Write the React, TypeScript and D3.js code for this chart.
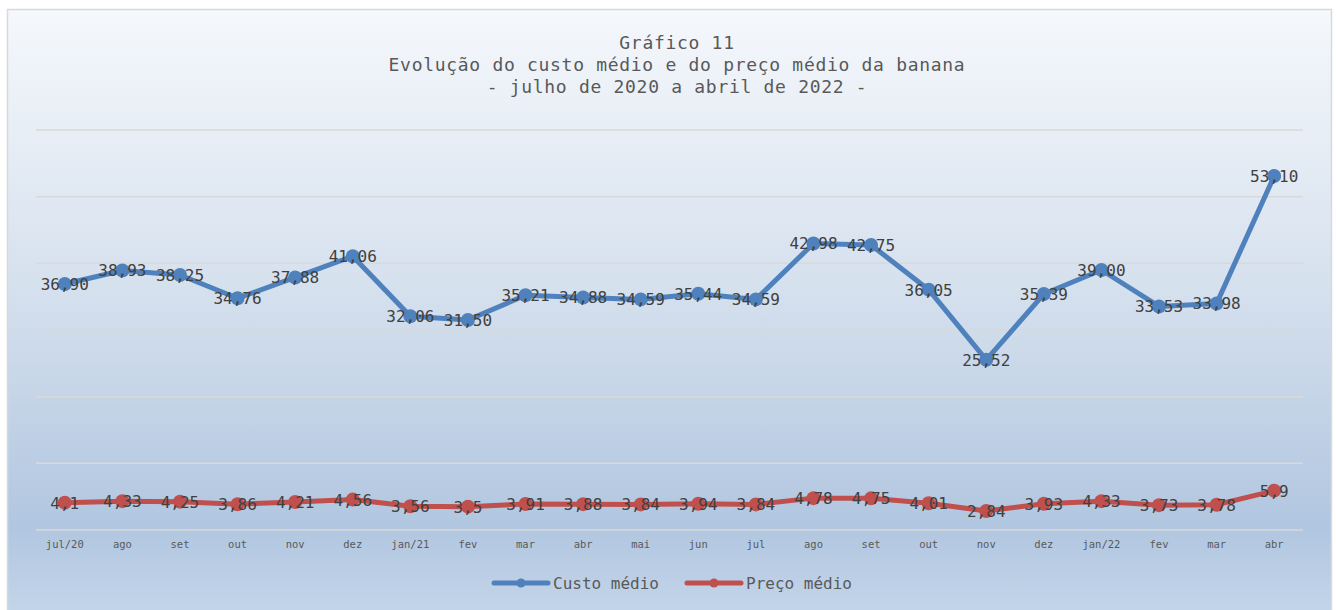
import React, { useEffect, useRef } from 'react';
import * as d3 from 'd3';

const months = ['jul/20', 'ago', 'set', 'out', 'nov', 'dez', 'jan/21', 'fev', 'mar', 'abr', 'mai', 'jun',
  'jul', 'ago', 'set', 'out', 'nov', 'dez', 'jan/22', 'fev', 'mar', 'abr'];

const custoMedio = [36.90, 38.93, 38.25, 34.76, 37.88, 41.06, 32.06, 31.50, 35.21, 34.88, 34.59, 35.44,
  34.59, 42.98, 42.75, 36.05, 25.52, 35.39, 39.00, 33.53, 33.98, 53.10];
const custoLabels = ['36,90', '38,93', '38,25', '34,76', '37,88', '41,06', '32,06', '31,50', '35,21', '34,88', '34,59', '35,44',
  '34,59', '42,98', '42,75', '36,05', '25,52', '35,39', '39,00', '33,53', '33,98', '53,10'];

const precoMedio = [4.1, 4.33, 4.25, 3.86, 4.21, 4.56, 3.56, 3.5, 3.91, 3.88, 3.84, 3.94,
  3.84, 4.78, 4.75, 4.01, 2.84, 3.93, 4.33, 3.73, 3.78, 5.9];
const precoLabels = ['4,1', '4,33', '4,25', '3,86', '4,21', '4,56', '3,56', '3,5', '3,91', '3,88', '3,84', '3,94',
  '3,84', '4,78', '4,75', '4,01', '2,84', '3,93', '4,33', '3,73', '3,78', '5,9'];

const yTicks = [0, 10, 20, 30, 40, 50, 60];

const titleLines = ['Gráfico 11', 'Evolução do custo médio e do preço médio da banana', '- julho de 2020 a abril de 2022 -'];

const FONT = '"DejaVu Sans Mono", "Liberation Mono", monospace';

const App = () => {
  const svgRef = useRef<SVGSVGElement>(null);
  const svgWidth = 1336;
  const svgHeight = 610;

  useEffect(() => {
    const svg = d3.select(svgRef.current);
    svg.selectAll('*').remove();

    const defs = svg.append('defs');
    const grad = defs.append('linearGradient')
      .attr('id', 'bg').attr('x1', 0).attr('y1', 0).attr('x2', 0).attr('y2', 1);
    grad.append('stop').attr('offset', '0%').attr('stop-color', '#f5f8fc');
    grad.append('stop').attr('offset', '45%').attr('stop-color', '#d6e1ee');
    grad.append('stop').attr('offset', '85%').attr('stop-color', '#b1c6e0');
    grad.append('stop').attr('offset', '100%').attr('stop-color', '#c4d6ea');

    // chart area
    svg.append('rect')
      .attr('x', 7.5).attr('y', 9.5)
      .attr('width', 1324).attr('height', 610)
      .attr('fill', 'url(#bg)')
      .attr('stroke', '#d9d9d9')
      .attr('stroke-width', 1.5);

    const x = d3.scaleBand<number>()
      .domain(months.map((_, i) => i))
      .range([36, 1303])
      .padding(0);
    const cx = (i: number) => (x(i) as number) + x.bandwidth() / 2;

    const y = d3.scaleLinear().domain([0, 60]).range([530, 130]);

    // gridlines
    svg.append('g')
      .selectAll('line')
      .data(yTicks)
      .enter().append('line')
      .attr('x1', 36).attr('x2', 1303)
      .attr('y1', d => y(d)).attr('y2', d => y(d))
      .attr('stroke', '#d9d9d9')
      .attr('stroke-width', 1.5);

    // title
    svg.append('g')
      .selectAll('text')
      .data(titleLines)
      .enter().append('text')
      .attr('x', 677)
      .attr('y', (d, i) => 49 + i * 22)
      .attr('text-anchor', 'middle')
      .attr('font-family', FONT)
      .attr('font-size', 18)
      .attr('letter-spacing', 0.7)
      .attr('fill', '#595959')
      .text(d => d);

    // x axis labels
    svg.append('g')
      .selectAll('text')
      .data(months)
      .enter().append('text')
      .attr('x', (d, i) => cx(i))
      .attr('y', 548)
      .attr('text-anchor', 'middle')
      .attr('font-family', FONT)
      .attr('font-size', 10.5)
      .attr('fill', '#595959')
      .text(d => d);

    const series = [
      { name: 'Custo médio', values: custoMedio, labels: custoLabels, color: '#4f81bd' },
      { name: 'Preço médio', values: precoMedio, labels: precoLabels, color: '#c0504d' },
    ];

    const line = d3.line<number>()
      .x((d, i) => cx(i))
      .y(d => y(d));

    series.forEach(s => {
      const g = svg.append('g');
      g.append('path')
        .datum(s.values)
        .attr('d', line)
        .attr('fill', 'none')
        .attr('stroke', s.color)
        .attr('stroke-width', 5)
        .attr('stroke-linejoin', 'round')
        .attr('stroke-linecap', 'round');
      g.selectAll('circle')
        .data(s.values)
        .enter().append('circle')
        .attr('cx', (d, i) => cx(i))
        .attr('cy', d => y(d))
        .attr('r', 7)
        .attr('fill', s.color);
    });

    series.forEach(s => {
      svg.append('g')
        .selectAll('text')
        .data(s.values)
        .enter().append('text')
        .attr('x', (d, i) => cx(i))
        .attr('y', d => y(d) + 6)
        .attr('text-anchor', 'middle')
        .attr('font-family', FONT)
        .attr('font-size', 16)
        .attr('fill', '#404040')
        .text((d, i) => s.labels[i]);
    });

    // legend
    const legendX = [494, 687];
    series.forEach((s, i) => {
      const lg = svg.append('g').attr('transform', `translate(${legendX[i]},583)`);
      lg.append('line')
        .attr('x1', 0).attr('x2', 54)
        .attr('y1', 0).attr('y2', 0)
        .attr('stroke', s.color)
        .attr('stroke-width', 5)
        .attr('stroke-linecap', 'round');
      lg.append('circle').attr('cx', 27).attr('cy', 0).attr('r', 4.5).attr('fill', s.color);
      lg.append('text')
        .attr('x', 59).attr('y', 6)
        .attr('font-family', FONT)
        .attr('font-size', 16)
        .attr('fill', '#595959')
        .text(s.name);
    });
  }, []);

  return (
    <div style={{ position: 'absolute', left: 0, top: 0 }}>
      <svg ref={svgRef} width={svgWidth} height={svgHeight} style={{ display: 'block' }}></svg>
    </div>
  );
};

export default App;
